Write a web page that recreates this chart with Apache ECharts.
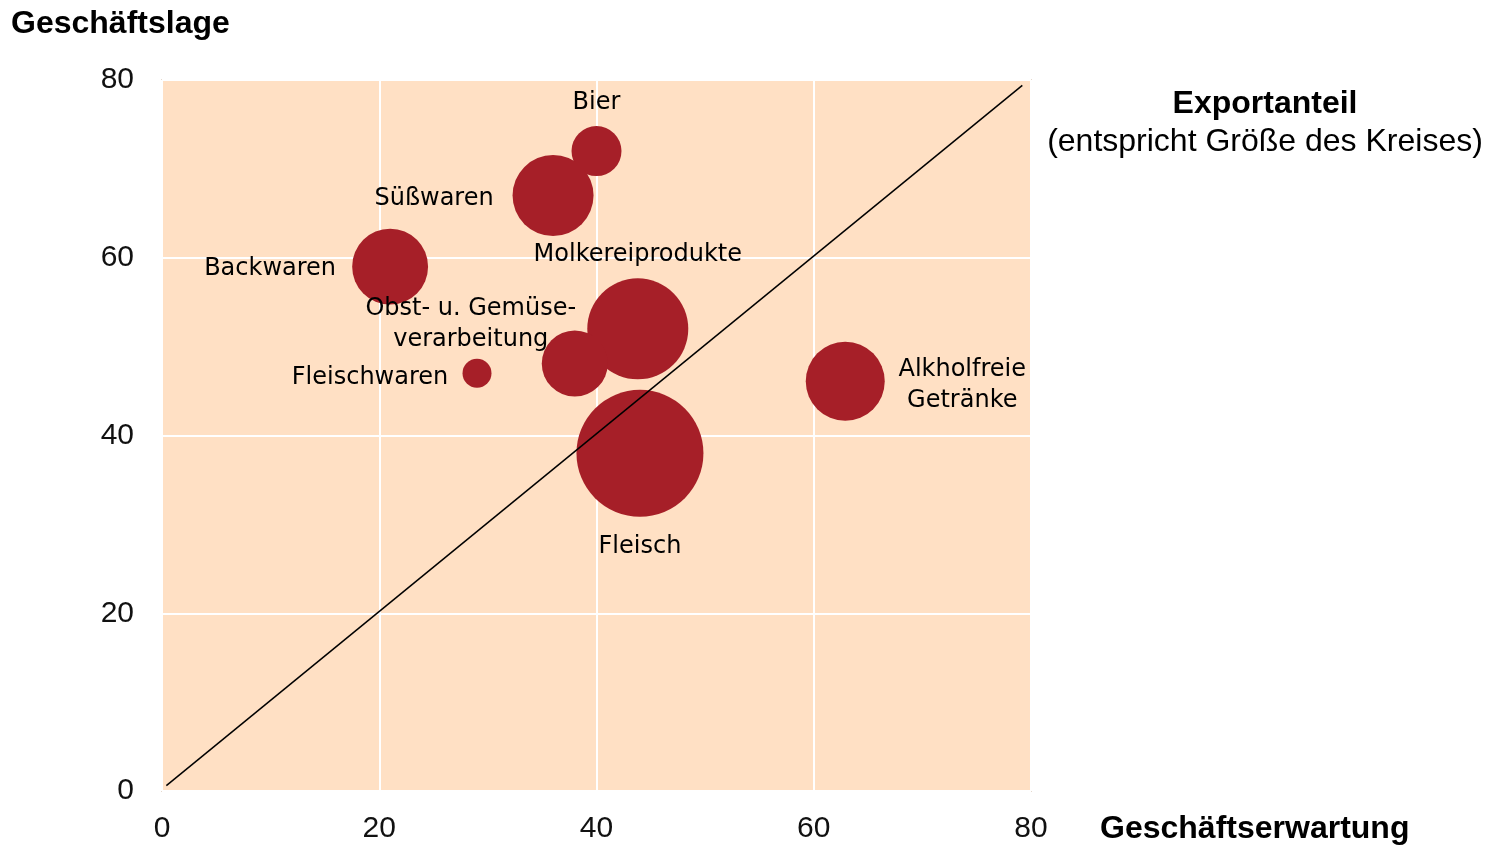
<!DOCTYPE html>
<html>
<head>
<meta charset="utf-8">
<script src="https://cdn.jsdelivr.net/npm/echarts@6/dist/echarts.min.js"></script>
<style>
  html, body { margin: 0; padding: 0; background: #fff; }
  #chart { width: 1498px; height: 845px; }
</style>
</head>
<body>
<div id="chart"></div>
<script>
// Branchen
var branchen = ['Bier', 'Süßwaren', 'Backwaren', 'Molkereiprodukte', 'Obst- u. Gemüse-\nverarbeitung', 'Fleischwaren', 'Alkholfreie\nGetränke', 'Fleisch'];
// Geschäftserwartung (x)
var erwartung = [40, 36, 21, 43.8, 38, 29, 62.9, 44];
// Geschäftslage (y)
var lage = [72, 67, 59, 52, 48.1, 47, 46.1, 38];
// Exportanteil (Kreisfläche), geschätzt
var exportanteil = [6.25, 16.4, 14.4, 25.5, 10.9, 2.1, 15.6, 40.3];
// Achsenbeschriftung
var ticks = [0, 20, 40, 60, 80];

// Label-Versatz relativ zum Kreismittelpunkt
var labelOffset = [[0, -48], [-119, 3], [-120, 2], [0, -74], [-104, -39], [-107, 4], [117, 4], [0, 93]];

var data = branchen.map(function (name, i) {
  return {
    name: name,
    value: [erwartung[i], lage[i], exportanteil[i]],
    label: { offset: labelOffset[i] }
  };
});

var chart = echarts.init(document.getElementById('chart'));
chart.setOption({
  animation: false,
  backgroundColor: '#fff',
  grid: {
    left: 162, top: 80, width: 869, height: 711,
    show: true,
    backgroundColor: '#FFE0C4',
    borderColor: '#D2BBA6',
    borderWidth: 1.5
  },
  xAxis: {
    type: 'value', min: ticks[0], max: ticks[ticks.length - 1], interval: 20,
    axisLine: { show: false }, axisTick: { show: false },
    axisLabel: { fontFamily: 'Liberation Sans', fontSize: 30, color: '#111', margin: 23 },
    splitLine: { lineStyle: { color: '#fff', width: 2 } }
  },
  yAxis: {
    type: 'value', min: ticks[0], max: ticks[ticks.length - 1], interval: 20,
    axisLine: { show: false }, axisTick: { show: false },
    axisLabel: { fontFamily: 'Liberation Sans', fontSize: 30, color: '#111', margin: 28 },
    splitLine: { lineStyle: { color: '#fff', width: 2 } }
  },
  graphic: [
    { type: 'text', left: 11, top: 8, style: { text: 'Geschäftslage', font: 'bold 32px "Liberation Sans"', fill: '#000' } },
    { type: 'text', left: 1100, top: 813, style: { text: 'Geschäftserwartung', font: 'bold 32px "Liberation Sans"', fill: '#000' } },
    { type: 'text', x: 1265, y: 88, style: { text: 'Exportanteil', font: 'bold 32px "Liberation Sans"', fill: '#000', textAlign: 'center' } },
    { type: 'text', x: 1265, y: 126, style: { text: '(entspricht Größe des Kreises)', font: '32px "Liberation Sans"', fill: '#000', textAlign: 'center' } }
  ],
  series: [
    {
      type: 'scatter',
      data: data,
      symbol: 'circle',
      symbolSize: function (v) { return 20 * Math.sqrt(v[2]); },
      itemStyle: { color: '#A61F28', opacity: 1 },
      label: {
        show: true,
        position: 'inside',
        formatter: '{b}',
        fontFamily: 'DejaVu Sans',
        fontSize: 24,
        lineHeight: 31,
        color: '#000',
        align: 'center'
      },
      z: 2
    },
    {
      type: 'line',
      data: [[0.4, 0.6], [79.2, 79.4]],
      symbol: 'none',
      lineStyle: { color: '#000', width: 1.5 },
      z: 3,
      silent: true
    }
  ]
});
</script>
</body>
</html>
